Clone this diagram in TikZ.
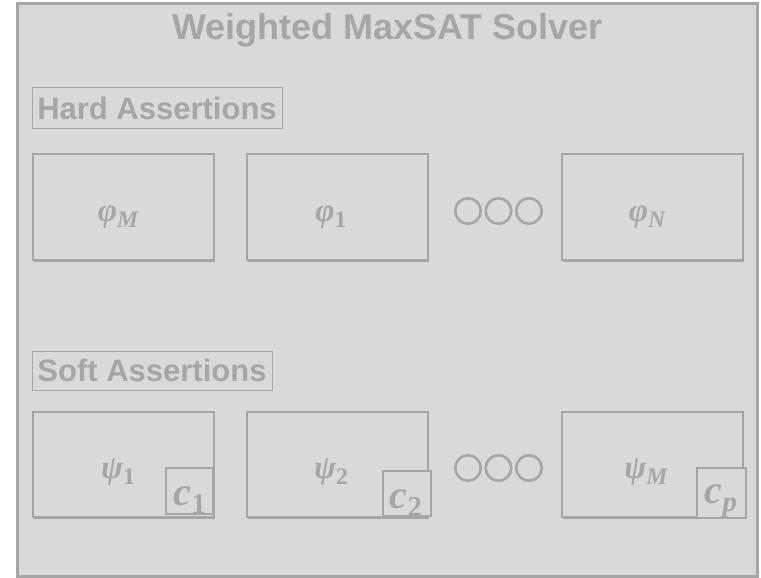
\documentclass[tikz,border=0pt]{standalone}
\usepackage{graphicx}
\usepackage{fontspec}
\setmainfont{Liberation Sans}
\newfontfamily\mserif{Liberation Serif}
\usetikzlibrary{shadows}
\definecolor{bgc}{HTML}{D9D9D9}
\definecolor{edc}{HTML}{A6A6A6}
\definecolor{txc}{HTML}{A6A6A6}
\newcommand{\subl}[2]{{#1}\raisebox{-0.2em}{\scalebox{0.72}{#2}}}
\begin{document}
\begin{tikzpicture}[x=1pt,y=-1pt,
  frame/.style={draw=edc,line width=3pt,fill=bgc,inner sep=0pt},
  titletext/.style={text=txc,font=\fontsize{36}{40}\selectfont\bfseries,inner sep=0pt},
  sectbox/.style={draw=edc,line width=1pt,text=txc,inner sep=0pt,minimum height=40pt,font=\fontsize{31}{34}\selectfont\bfseries},
  abox/.style={draw=edc,line width=1.5pt,fill=bgc,inner sep=0pt,minimum width=181pt,minimum height=106pt,
    drop shadow={shadow xshift=1.2pt,shadow yshift=-2.4pt,opacity=.45,fill=black!60}},
  cbox/.style={draw=edc,line width=1.3pt,fill=bgc,inner sep=0pt},
  mlabel/.style={text=txc,inner sep=0pt,anchor=base,font=\fontsize{33}{36}\selectfont\mserif\bfseries},
  clabel/.style={text=txc,inner sep=0pt,anchor=base,font=\fontsize{40}{42}\selectfont\mserif\bfseries},
  dotc/.style={circle,draw=edc,line width=2.6pt,minimum size=25.5pt,inner sep=0pt}
]
\useasboundingbox (0,0) rectangle (761,578);
\node[frame,minimum width=740.5pt,minimum height=572.5pt] (outer) at (387.25,290.25) {};
\node[titletext,anchor=base] (title) at (387.5,40) {Weighted MaxSAT Solver};
\node[sectbox,minimum width=250pt] (hard) at (157,108) {Hard Assertions};
\node[sectbox,minimum width=240pt,minimum height=39pt] (soft) at (152,370.5) {Soft Assertions};
% hard row
\node[abox] (h1) at (123.5,207) {};
\node[abox] (h2) at (337.5,207) {};
\node[abox] (h3) at (652.5,207) {};
\node[mlabel] (lh1) at (118,221) {\subl{\itshape φ}{\itshape M}};
\node[mlabel] (lh2) at (331,221) {\subl{\itshape φ}{1}};
\node[mlabel] (lh3) at (647,221) {\subl{\itshape φ}{\itshape N}};
\node[dotc] (hd1) at (468,211) {};
\node[dotc] (hd2) at (498.5,211) {};
\node[dotc] (hd3) at (529,211) {};
% soft row
\node[abox,minimum height=105pt] (s1) at (123.5,464.5) {};
\node[abox,minimum height=105pt] (s2) at (337.5,464.5) {};
\node[abox,minimum height=105pt] (s3) at (652.5,464.5) {};
\node[mlabel] (ls1) at (118,478) {\subl{\itshape ψ}{1}};
\node[mlabel] (ls2) at (331,478) {\subl{\itshape ψ}{2}};
\node[mlabel] (ls3) at (646,478) {\subl{\itshape ψ}{\itshape M}};
\node[cbox,minimum width=47pt,minimum height=46pt] (c1) at (189.5,491) {};
\node[cbox,minimum width=48pt,minimum height=45pt] (c2) at (407,493.5) {};
\node[cbox,minimum width=49pt,minimum height=50pt] (c3) at (721.5,493) {};
\node[clabel] (lc1) at (190,505) {\subl{\itshape c}{1}};
\node[clabel] (lc2) at (406,508) {\subl{\itshape c}{2}};
\node[clabel] (lc3) at (721,503) {\subl{\itshape c}{\itshape p}};
\node[dotc] (sd1) at (468,468) {};
\node[dotc] (sd2) at (498.5,468) {};
\node[dotc] (sd3) at (529,468) {};
\end{tikzpicture}
\end{document}
